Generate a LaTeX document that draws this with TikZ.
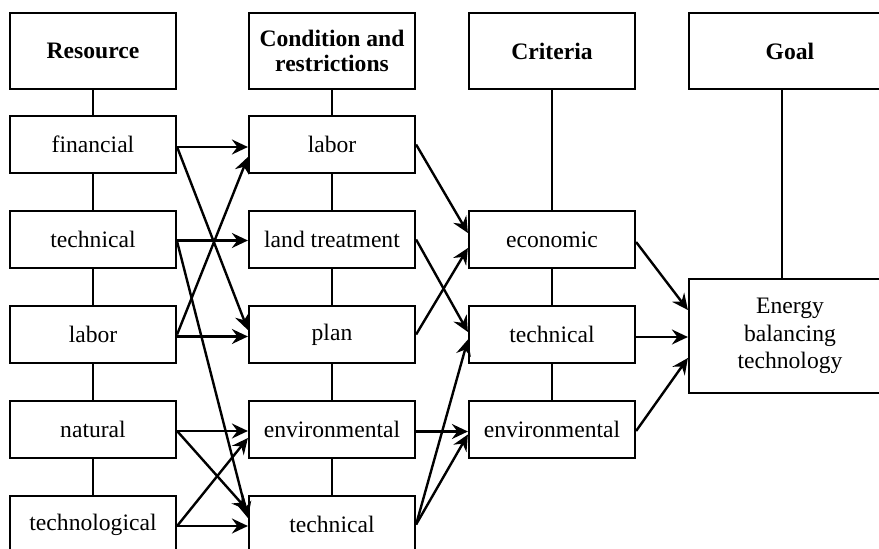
\documentclass[tikz,border=0pt]{standalone}
\usepackage{fontspec}
\setmainfont{Liberation Serif}
\usetikzlibrary{arrows.meta}
\begin{document}
\begin{tikzpicture}[x=1pt,y=1pt,
  box/.style={draw,line width=2.2pt,minimum width=166pt,minimum height=57pt,inner sep=0pt,align=center,font=\fontsize{23.6}{27.5}\selectfont},
  headbox/.style={box,minimum height=76pt,font=\fontsize{23.6}{25}\selectfont\bfseries},
  link/.style={line width=1.6pt},
  arr/.style={line width=2.4pt,-{Stealth[length=16pt,width=15pt,inset=5.5pt]}}]
\useasboundingbox (0,0) rectangle (879,-549);
% headers
\node[headbox] (h1) at (93,-51) {Resource};
\node[headbox] (h2) at (332,-51) {Condition and\\restrictions};
\node[headbox] (h3) at (552,-51) {Criteria};
\node[headbox,minimum width=202pt] (h4) at (790,-51) {Goal};
% column 1
\node[box] (fin) at (93,-144.5) {financial};
\node[box] (tec1) at (93,-239.5) {technical};
\node[box] (lab1) at (93,-334.5) {labor};
\node[box] (nat) at (93,-429.5) {natural};
\node[box] (tgl) at (93,-524.5) {technological};
% column 2
\node[box] (lab2) at (332,-144.5) {labor};
\node[box] (land) at (332,-239.5) {land treatment};
\node[box] (plan) at (332,-334.5) {plan};
\node[box] (env2) at (332,-429.5) {environmental};
\node[box] (tec2) at (332,-524.5) {technical};
% column 3
\node[box] (eco) at (552,-239.5) {economic};
\node[box] (tec3) at (552,-334.5) {technical};
\node[box] (env3) at (552,-429.5) {environmental};
% goal
\node[box,minimum width=202pt,minimum height=114pt] (ebt) at (790,-336) {Energy\\balancing\\technology};
% vertical links
\draw[link] (h1) -- (fin);
\draw[link] (fin) -- (tec1);
\draw[link] (tec1) -- (lab1);
\draw[link] (lab1) -- (nat);
\draw[link] (nat) -- (tgl);
\draw[link] (h2) -- (lab2);
\draw[link] (lab2) -- (land);
\draw[link] (land) -- (plan);
\draw[link] (plan) -- (env2);
\draw[link] (env2) -- (tec2);
\draw[link] (h3.south) -- (eco.north);
\draw[link] (eco) -- (tec3);
\draw[link] (tec3) -- (env3);
\draw[link] ([xshift=-8pt]h4.south) -- ([xshift=-8pt]ebt.north);
% column 1 -> 2
\draw[arr] ([yshift=-2.5pt]fin.east) -- ([yshift=-2.5pt]lab2.west);
\draw[arr] ([yshift=-2.5pt]fin.east) -- ([yshift=4.5pt]plan.west);
\draw[arr] ([yshift=-1pt]tec1.east) -- ([yshift=-1pt]land.west);
\draw[arr] ([yshift=-2pt]tec1.east) -- ([yshift=6.5pt]tec2.west);
\draw[arr] (lab1.east) -- ([yshift=-12.5pt]lab2.west);
\draw[arr] ([yshift=-2pt]lab1.east) -- ([yshift=-2pt]plan.west);
\draw[arr] ([yshift=-1.5pt]nat.east) -- ([yshift=-1.5pt]env2.west);
\draw[arr] ([yshift=-1.5pt]nat.east) -- ([yshift=14pt]tec2.west);
\draw[arr] ([yshift=-1.5pt]tgl.east) -- ([yshift=-8.5pt]env2.west);
\draw[arr] ([yshift=-1.5pt]tgl.east) -- ([yshift=-1.5pt]tec2.west);
% column 2 -> 3
\draw[arr] (lab2.east) -- ([yshift=6.5pt]eco.west);
\draw[arr] (land.east) -- ([yshift=2.5pt]tec3.west);
\draw[arr] (plan.east) -- ([yshift=-8.5pt]eco.west);
\draw[arr] ([yshift=-2pt]env2.east) -- ([yshift=-2pt]env3.west);
\draw[arr] (tec2.east) -- ([yshift=-5pt]tec3.west);
\draw[arr] (tec2.east) -- ([yshift=-5pt]env3.west);
% column 3 -> goal
\draw[arr] ([yshift=-2.5pt]eco.east) -- ([yshift=26pt]ebt.west);
\draw[arr] ([yshift=-2.5pt]tec3.east) -- ([yshift=-1pt]ebt.west);
\draw[arr] ([yshift=-1.5pt]env3.east) -- ([yshift=-22pt]ebt.west);
\end{tikzpicture}
\end{document}
